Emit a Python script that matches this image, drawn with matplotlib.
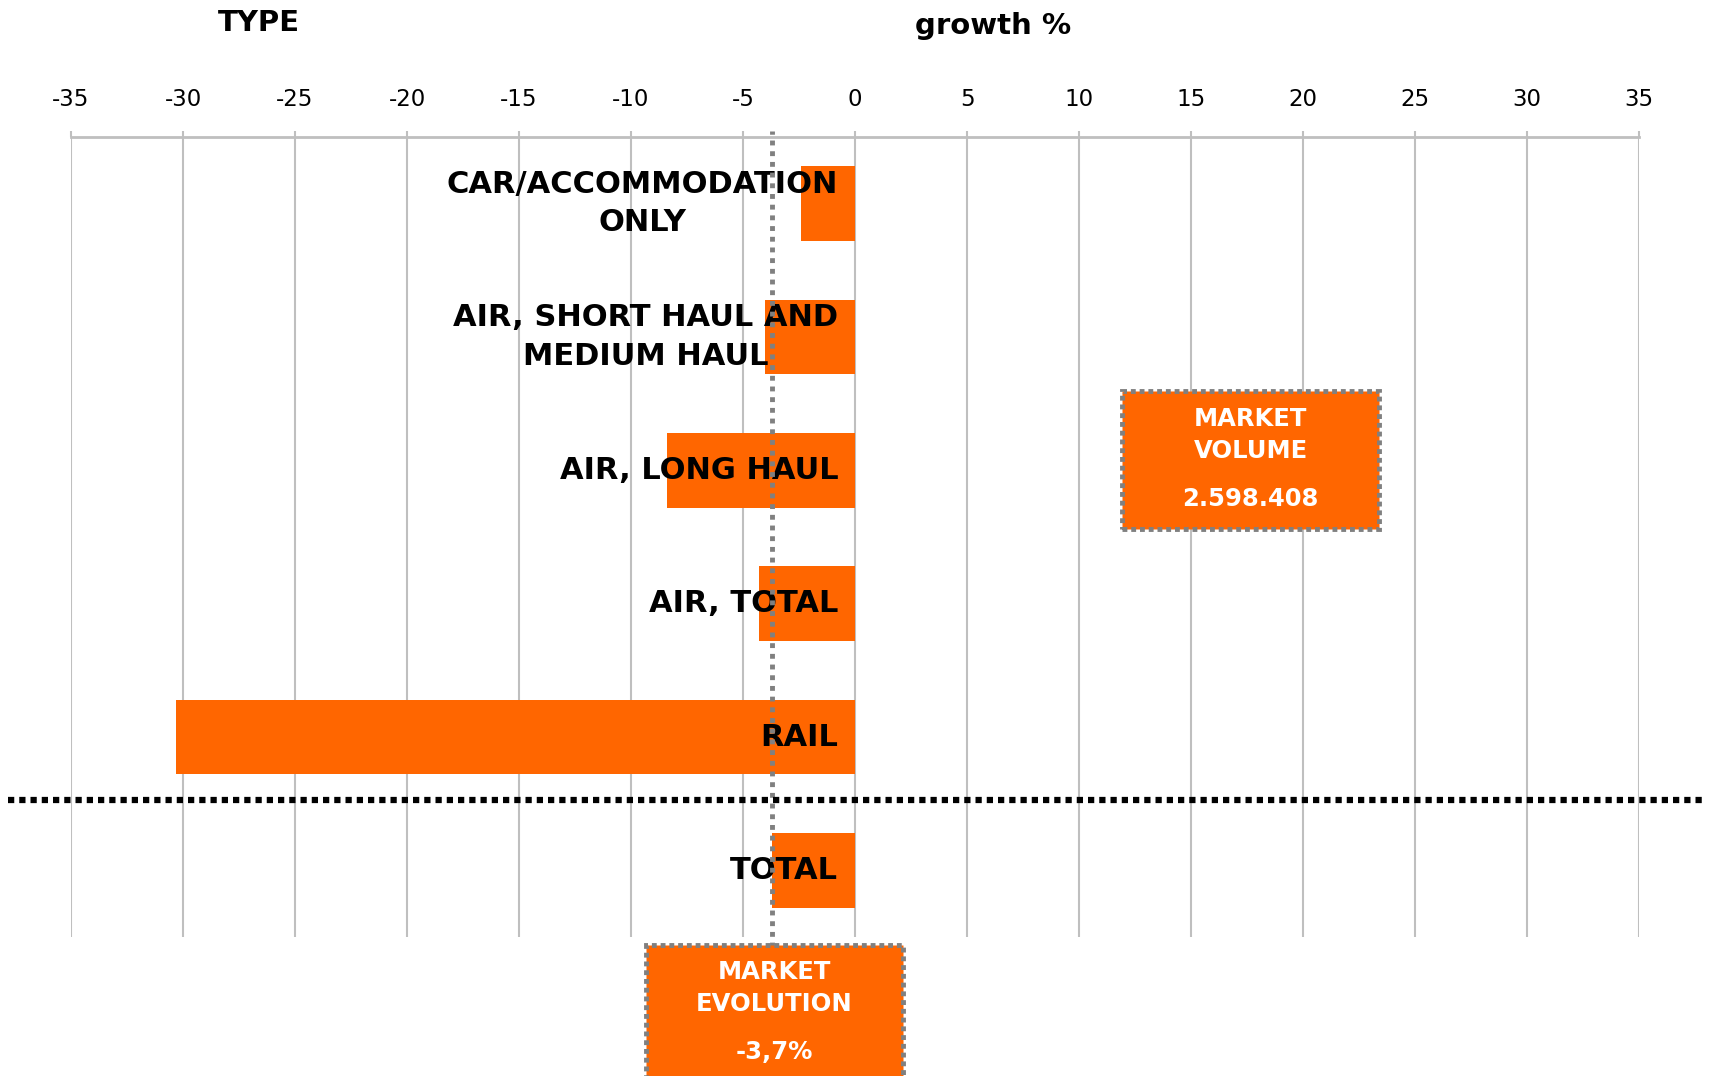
import numpy as np
import matplotlib
matplotlib.use("Agg")
import matplotlib.pyplot as plt
from matplotlib.patches import Rectangle
import matplotlib.transforms as mtransforms

plt.rcParams['font.family'] = ['DejaVu Sans']

categories = ['CAR/ACCOMMODATION\nONLY', 'AIR, SHORT HAUL AND\nMEDIUM HAUL',
              'AIR, LONG HAUL', 'AIR, TOTAL', 'RAIL', 'TOTAL']
growth = [-2.4, -4.0, -8.4, -4.3, -30.3, -3.7]
market_evolution = -3.7
market_volume = '2.598.408'
xticks = list(range(-35, 40, 5))

ORANGE = '#FF6600'
GRID = '#BFBFBF'
DOT = '#808080'

W, H = 1713, 1076
fig = plt.figure(figsize=(W / 100, H / 100), dpi=100)
ax = fig.add_axes([71 / W, 1 - 937 / H, (1639 - 71) / W, (937 - 137) / H])

y = np.arange(len(categories))
ax.barh(y, growth, height=0.56, color=ORANGE, zorder=3)
ax.set_xlim(-35, 35)
ax.set_ylim(len(categories) - 0.5, -0.5)

ax.set_xticks(xticks)
ax.set_xticklabels([str(t) for t in xticks], fontsize=16.5)
ax.xaxis.tick_top()
ax.tick_params(axis='x', length=4, width=1.5, color=GRID, pad=15)
ax.set_yticks([])
ax.grid(axis='x', color=GRID, linewidth=1.5, zorder=0)
for s in ['left', 'right', 'bottom']:
    ax.spines[s].set_visible(False)
ax.spines['top'].set_color(GRID)
ax.spines['top'].set_linewidth(2)

for i, lab in enumerate(categories):
    ax.text(-0.75, i, lab, ha='right', va='center', multialignment='center',
            fontsize=22, fontweight='bold', color='black', zorder=4,
            linespacing=1.4)

# market evolution line
trans = mtransforms.blended_transform_factory(ax.transData, ax.transAxes)
ax.plot([market_evolution, market_evolution], [-0.012, 1.008], transform=trans,
        color=DOT, linewidth=3.5, linestyle=(0, (1, 1.2)), clip_on=False, zorder=5)

# separator above total
trans2 = mtransforms.blended_transform_factory(ax.transAxes, ax.transData)
ax.plot([-0.04, 1.042], [4.47, 4.47], transform=trans2, color='black',
        linewidth=4.5, linestyle=(0, (1, 0.8)), clip_on=False, zorder=5)

fig.text(259 / W, 1 - 23 / H, 'TYPE', ha='center', va='center',
         fontsize=21, fontweight='bold')
fig.text(993 / W, 1 - 26 / H, 'growth %', ha='center', va='center',
         fontsize=21, fontweight='bold')


def info_box(x0, x1, y0, y1, lines, ys):
    r = Rectangle((x0 / W, 1 - y1 / H), (x1 - x0) / W, (y1 - y0) / H,
                  transform=fig.transFigure, facecolor=ORANGE, edgecolor=DOT,
                  linewidth=3.5, linestyle=(0, (1, 0.8)), zorder=10)
    fig.patches.append(r)
    cx = (x0 + x1) / 2
    for txt, yy in zip(lines, ys):
        fig.text(cx / W, 1 - yy / H, txt, ha='center', va='center', fontsize=17.5,
                 fontweight='bold', color='white', zorder=11)


info_box(1122, 1379, 391, 529, ['MARKET', 'VOLUME', market_volume], [419, 451, 499])
info_box(646, 903, 945, 1080, ['MARKET', 'EVOLUTION', f'{market_evolution:.1f}%'.replace('.', ',')],
         [972, 1004, 1052])

fig.savefig('out.png', dpi=100)
